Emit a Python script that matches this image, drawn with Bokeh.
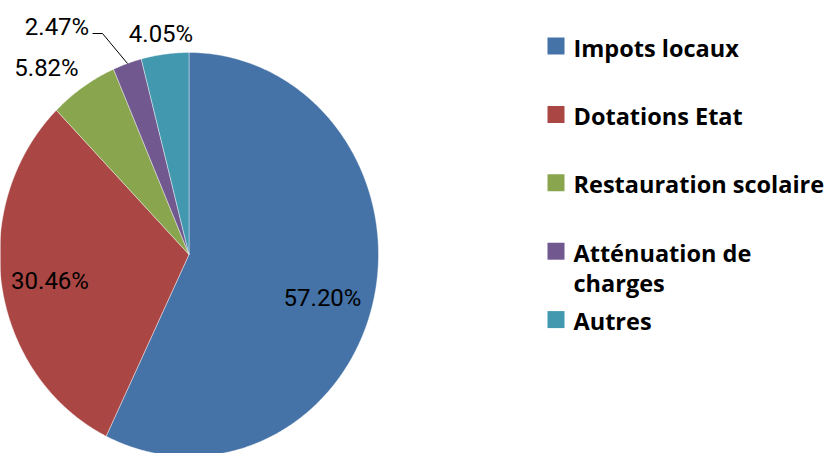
import numpy as np
from bokeh.plotting import figure
from bokeh.models import Range1d, ColumnDataSource
from bokeh.core.properties import value
from bokeh.embed import file_html
from bokeh.resources import INLINE

# ---- data ----
categories = ["Impots locaux", "Dotations Etat", "Restauration scolaire",
              "Atténuation de\ncharges", "Autres"]
shares = [57.20, 30.46, 5.82, 2.47, 4.05]
colors = ["#4572A7", "#AA4643", "#89A54E", "#71588F", "#4198AF"]

# ---- layout (picture-pixel coordinates) ----
W, H = 826, 453
CX, CY, RX, RY = 188.5, 254.0, 189.5, 202.0
TXT_SHIFT = -9
label_x = [322, 49.5, 46, 56.5, 160.5]
label_y = [306, 289, 76, 35, 42]
leader_x = [92, 102, 127]
leader_y = [33, 33, 63]
leg_sq_x, leg_sq_size = 555.5, 17
leg_y0, leg_step = 45.5, 68.4
leg_text_x = 573
line_gap = 30

p = figure(width=W, height=H, output_backend="svg", toolbar_location=None,
           x_range=Range1d(0, W), y_range=Range1d(H, 0),
           min_border=0, min_border_left=0, min_border_right=0,
           min_border_top=0, min_border_bottom=0)
p.axis.visible = False
p.grid.visible = False
p.outline_line_color = None
p.background_fill_color = "white"
p.border_fill_color = "white"

# pie slices (clockwise from 12 o'clock)
total = sum(shares)
cum = np.concatenate([[0.0], np.cumsum(shares) / total])
xs, ys = [], []
for i in range(len(shares)):
    a0, a1 = cum[i] * 2 * np.pi, cum[i + 1] * 2 * np.pi
    n = max(8, int((a1 - a0) / (2 * np.pi) * 720))
    th = np.linspace(a0, a1, n)
    px = np.concatenate([[CX], CX + RX * np.sin(th), [CX]])
    py = np.concatenate([[CY], CY - RY * np.cos(th), [CY]])
    xs.append(list(px))
    ys.append(list(py))
src = ColumnDataSource(dict(xs=xs, ys=ys, color=colors))
p.patches("xs", "ys", source=src, fill_color="color", line_color="white",
          line_width=0.6, line_alpha=0.7)

# percentage labels
pct = [f"{v:.2f}%" for v in shares]
p.text(x=label_x, y=[y + TXT_SHIFT for y in label_y], text=pct, text_font=value("Roboto"),
       text_font_size="24px", text_align="center", text_baseline="alphabetic",
       text_color="black")
p.line(leader_x, leader_y, line_color="black", line_width=1)

# legend
sq_y = [leg_y0 + leg_step * i for i in range(len(categories))]
half = leg_sq_size / 2
p.quad(left=[leg_sq_x - half] * len(categories), right=[leg_sq_x + half] * len(categories),
       top=[y - half for y in sq_y], bottom=[y + half for y in sq_y],
       fill_color=colors, line_color=None)
tx, ty, tt = [], [], []
for i, c in enumerate(categories):
    for j, line in enumerate(c.split("\n")):
        tx.append(leg_text_x)
        ty.append(sq_y[i] + 10.5 + j * line_gap + TXT_SHIFT)
        tt.append(line)
p.text(x=tx, y=ty, text=tt, text_font=value("Open Sans"), text_font_style="bold",
       text_font_size="23.5px", text_align="left", text_baseline="alphabetic",
       text_color="black")

open("out.html", "w").write(file_html(p, INLINE))
